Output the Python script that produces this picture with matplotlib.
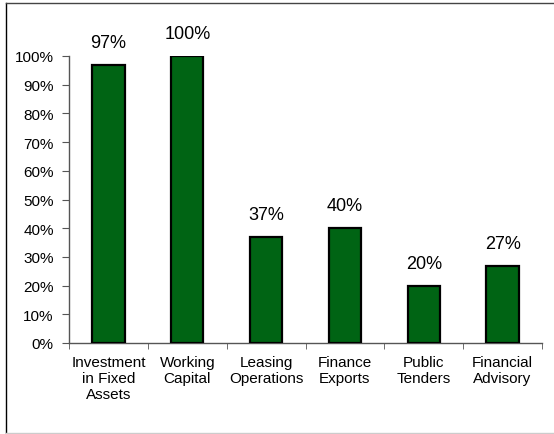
import matplotlib.pyplot as plt
import numpy as np
from matplotlib.lines import Line2D

plt.rcParams['font.family'] = ['Liberation Sans', 'DejaVu Sans']

categories = ['Investment\nin Fixed\nAssets', 'Working\nCapital', 'Leasing\nOperations',
              'Finance\nExports', 'Public\nTenders', 'Financial\nAdvisory']
values = [0.97, 1.00, 0.37, 0.40, 0.20, 0.27]
value_labels = ['97%', '100%', '37%', '40%', '20%', '27%']
yticks = np.arange(0, 1.01, 0.1)
ytick_labels = ['%d%%' % round(t * 100) for t in yticks]

fig = plt.figure(figsize=(5.54, 4.35), dpi=100)
ax = fig.add_axes([69 / 554, 91 / 435, 473 / 554, 287 / 435])

x = np.arange(len(categories))
ax.bar(x, values, width=0.41, color='#006414', edgecolor='black', linewidth=1.6, zorder=3)

for xi, v, lab in zip(x, values, value_labels):
    ax.annotate(lab, (xi, v), xytext=(0, 16), textcoords='offset points',
                ha='center', va='center', fontsize=13, annotation_clip=False)

ax.set_xlim(-0.5, len(categories) - 0.5)
ax.set_ylim(0, 1)
ax.set_yticks(yticks)
ax.set_yticklabels(ytick_labels, fontsize=11)
ax.set_xticks(x)
ax.set_xticklabels(categories, fontsize=11, linespacing=1.15)
ax.set_xticks(np.arange(-0.5, len(categories)), minor=True)
ax.tick_params(axis='x', which='major', length=0, pad=9)
ax.tick_params(axis='x', which='minor', length=4, color='#555555', direction='out')
ax.tick_params(axis='y', length=5, color='#555555', pad=6)

for s in ['top', 'right']:
    ax.spines[s].set_visible(False)
for s in ['left', 'bottom']:
    ax.spines[s].set_color('#555555')
    ax.spines[s].set_linewidth(1.0)

# outer chart frame
W, H = 554, 435
fig.add_artist(Line2D([6 / W, 6 / W], [1 - 4 / H, 1 - 434 / H], color='black', lw=1.0))
fig.add_artist(Line2D([6 / W, 1], [1 - 4 / H, 1 - 4 / H], color='#444444', lw=1.0))
fig.add_artist(Line2D([6 / W, 1], [1 - 434 / H, 1 - 434 / H], color='#cccccc', lw=1.0))

fig.savefig('out.png', dpi=100)
